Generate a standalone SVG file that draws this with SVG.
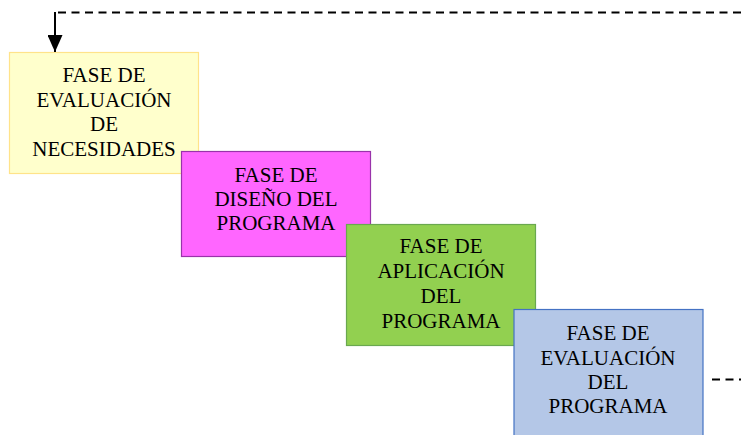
<svg xmlns="http://www.w3.org/2000/svg" width="741" height="435" viewBox="0 0 741 435">
<style>
text{font-family:"Liberation Serif","Times New Roman",serif;font-size:21px;fill:#000;text-anchor:middle}
.c{fill:none;stroke:#000;stroke-width:2}
.d{stroke-dasharray:8 5.5}
</style>
<defs>
<marker id="ah" markerWidth="17" markerHeight="15" refX="17" refY="7.5" orient="auto" markerUnits="userSpaceOnUse" viewBox="0 0 17 15">
<path d="M0,0 L17,7.5 L0,15 Z" fill="#000"/>
</marker>
</defs>
<rect width="741" height="435" fill="#fff"/>
<g id="n1">
<rect x="9.5" y="52.5" width="189" height="121" fill="#FFFFCC" stroke="#FFE38A" stroke-width="1.2"/>
<text x="104" y="82">FASE DE</text>
<text x="104" y="107">EVALUACIÓN</text>
<text x="104" y="131">DE</text>
<text x="104" y="156">NECESIDADES</text>
</g>
<g id="n2">
<rect x="181.5" y="151.5" width="189" height="105" fill="#FF66FF" stroke="#9933AA" stroke-width="1.2"/>
<text x="276" y="182">FASE DE</text>
<text x="276" y="206">DISEÑO DEL</text>
<text x="276" y="230">PROGRAMA</text>
</g>
<g id="n3">
<rect x="346.5" y="224.5" width="189" height="121" fill="#92D050" stroke="#6AA84F" stroke-width="1.2"/>
<text x="441" y="253">FASE DE</text>
<text x="441" y="278">APLICACIÓN</text>
<text x="441" y="303">DEL</text>
<text x="441" y="328">PROGRAMA</text>
</g>
<g id="n4">
<rect x="514" y="309.5" width="189" height="130" fill="#B4C7E7" stroke="#4472C4" stroke-width="1.2"/>
<text x="608" y="340">FASE DE</text>
<text x="608" y="365">EVALUACIÓN</text>
<text x="608" y="389">DEL</text>
<text x="608" y="413">PROGRAMA</text>
</g>
<g id="connectors">
<path class="c d" d="M741,12.5 L55,12.5"/>
<path class="c" d="M55,12 L55,52" marker-end="url(#ah)"/>
<path class="c d" d="M712,379.5 L741,379.5"/>
</g>
</svg>
